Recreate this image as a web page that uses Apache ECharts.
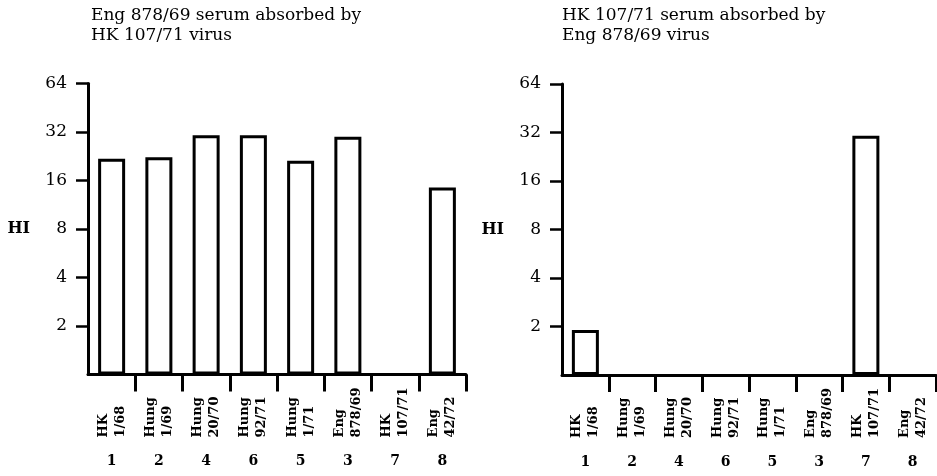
<!DOCTYPE html>
<html>
<head>
<meta charset="utf-8">
<script src="https://cdn.jsdelivr.net/npm/echarts@6/dist/echarts.min.js"></script>
<style>
  html, body { margin: 0; padding: 0; background: #fff; }
  #chart { width: 937px; height: 476px; }
</style>
</head>
<body>
<div id="chart"></div>
<script>
// ---- data ----
const categories = ['HK\n1/68', 'Hung\n1/69', 'Hung\n20/70', 'Hung\n92/71', 'Hung\n1/71', 'Eng\n878/69', 'HK\n107/71', 'Eng\n42/72'];
const strainNumbers = ['1', '2', '4', '6', '5', '3', '7', '8'];
const leftValues = [21.8, 22.3, 30.5, 30.5, 21.2, 29.9, null, 14.5];   // Eng 878/69 serum absorbed by HK 107/71 virus
const rightValues = [1.9, null, null, null, null, null, 30.5, null];    // HK 107/71 serum absorbed by Eng 878/69 virus
const yTickValues = [2, 4, 8, 16, 32, 64];
const leftTitle = 'Eng 878/69 serum absorbed by\nHK 107/71 virus';
const rightTitle = 'HK 107/71 serum absorbed by\nEng 878/69 virus';
const yName = 'HI';

const FONT = '"DejaVu Serif", "Liberation Serif", serif';
const INK = '#000';

function yAxisFor(gridIndex) {
  return {
    type: 'log', logBase: 2, min: 1, max: 64, gridIndex: gridIndex,
    splitNumber: 6,
    name: yName, nameLocation: 'middle', nameRotate: 0, nameGap: 58,
    nameTextStyle: { fontFamily: FONT, fontSize: 16, fontWeight: 'bold', color: INK },
    axisLine: { show: true, lineStyle: { color: INK, width: 3 } },
    axisTick: { show: true, inside: false, length: 12, lineStyle: { color: INK, width: 2.5 }, customValues: yTickValues },
    axisLabel: {
      margin: 21, fontFamily: FONT, fontSize: 17, color: INK, customValues: yTickValues,
      formatter: v => (v <= 1 ? '' : String(v))
    },
    splitLine: { show: false }
  };
}

function catAxisFor(gridIndex) {
  return {
    type: 'category', data: categories, gridIndex: gridIndex, position: 'bottom',
    axisLine: { show: true, onZero: false, lineStyle: { color: INK, width: 3 } },
    axisTick: { show: true, length: 17, interval: i => i > 0, lineStyle: { color: INK, width: 3 } },
    axisLabel: {
      interval: 0, rotate: 90, align: 'left', verticalAlign: 'middle', margin: 63,
      fontFamily: FONT, fontSize: 13, fontWeight: 'bold', lineHeight: 17, color: INK
    }
  };
}

function numAxisFor(gridIndex) {
  return {
    type: 'category', data: strainNumbers, gridIndex: gridIndex, position: 'bottom', offset: 0,
    axisLine: { show: false }, axisTick: { show: false },
    axisLabel: { interval: 0, margin: 80, fontFamily: FONT, fontSize: 14, fontWeight: 'bold', color: INK }
  };
}

function barSeries(values, axisIndex) {
  return {
    type: 'bar', xAxisIndex: axisIndex, yAxisIndex: axisIndex,
    data: values.map(v => (v == null ? '-' : v)),
    barWidth: 27,
    itemStyle: { color: '#fff', borderColor: INK, borderWidth: 3 },
    silent: true
  };
}

const titleStyle = { fontFamily: FONT, fontSize: 17, fontWeight: 'normal', lineHeight: 20.5, color: INK };

const chart = echarts.init(document.getElementById('chart'), null, { renderer: 'canvas' });
chart.setOption({
  backgroundColor: '#fff',
  animation: false,
  title: [
    { text: leftTitle, left: 91, top: 5, padding: 0, textStyle: titleStyle },
    { text: rightTitle, left: 562, top: 5, padding: 0, textStyle: titleStyle }
  ],
  grid: [
    { left: 88, top: 83.5, width: 378, height: 291 },
    { left: 562, top: 84, width: 374, height: 291 }
  ],
  xAxis: [catAxisFor(0), catAxisFor(1), numAxisFor(0), numAxisFor(1)],
  yAxis: [yAxisFor(0), yAxisFor(1)],
  series: [barSeries(leftValues, 0), barSeries(rightValues, 1)]
});
</script>
</body>
</html>
